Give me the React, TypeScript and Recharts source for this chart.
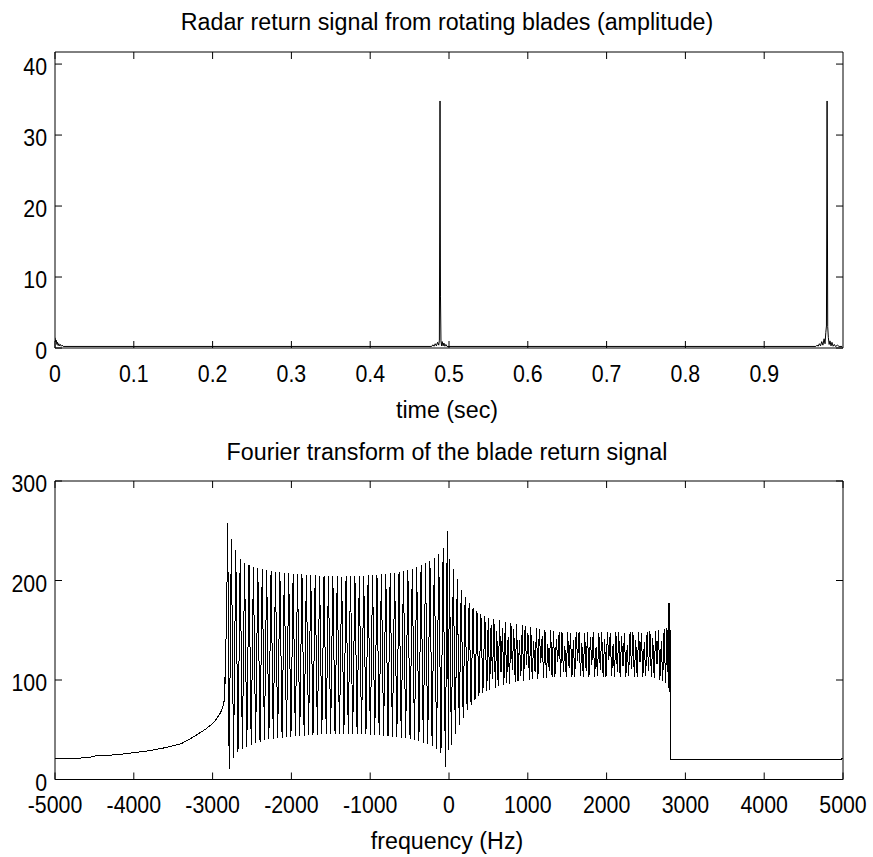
import React from 'react';
import { LineChart, Line, XAxis, YAxis } from 'recharts';

const FONT = '"Liberation Sans", Arial, Helvetica, sans-serif';

// ---------- tick labels ----------
const timeTicks = [0, 0.1, 0.2, 0.3, 0.4, 0.5, 0.6, 0.7, 0.8, 0.9];
const amplitudeTicks = [0, 10, 20, 30, 40];
const freqTicks = [-5000, -4000, -3000, -2000, -1000, 0, 1000, 2000, 3000, 4000, 5000];
const magnitudeTicks = [0, 100, 200, 300];

// ---------- top: radar return (time [s], amplitude) ----------
const bladeSignal: [number, number][] = [
  [0, 1.45], [0.0008, 0.9], [0.0016, 1.1], [0.0024, 0.5], [0.0032, 0.8], [0.004, 0.35],
  [0.0048, 0.6], [0.0056, 0.3], [0.0068, 0.5], [0.008, 0.25], [0.0092, 0.4], [0.0104, 0.22],
  [0.478, 0.22], [0.4795, 0.45], [0.481, 0.25], [0.4825, 0.6], [0.484, 0.3], [0.4855, 0.8],
  [0.487, 0.4], [0.4878, 1.1], [0.4886, 34.8], [0.4892, 7.2], [0.4898, 1.0], [0.4906, 0.3],
  [0.4914, 0.9], [0.4925, 0.3], [0.4935, 0.7], [0.4948, 0.25], [0.496, 0.5], [0.4975, 0.22],
  [0.9655, 0.22], [0.967, 0.4], [0.9685, 0.25], [0.97, 0.6], [0.9715, 0.3], [0.973, 0.9],
  [0.9745, 0.4], [0.976, 1.3], [0.9772, 0.6], [0.9782, 2.2], [0.979, 3.1], [0.9798, 34.8],
  [0.9806, 3.0], [0.9814, 1.5], [0.9824, 0.5], [0.9835, 1.0], [0.9848, 0.3], [0.986, 0.8],
  [0.9875, 0.25], [0.989, 0.5], [0.9905, 0.22], [0.993, 0.4], [0.995, 0.22], [0.999, 0.22],
];

// ---------- bottom: spectrum (frequency [Hz], magnitude) ----------
const spectrumLowTail: [number, number][] = [
  [-5000, 21.5], [-4700, 21.5], [-4560, 22], [-4520, 23.5], [-4200, 25], [-4000, 27],
  [-3800, 29], [-3600, 32], [-3400, 36], [-3300, 40], [-3200, 45], [-3100, 50],
  [-3000, 56], [-2950, 61], [-2900, 67], [-2870, 73], [-2856, 78], [-2848, 82],
  [-2845, 100], [-2841, 105], [-2837, 96], [-2830, 140], [-2820, 180], [-2808, 258],
];

const spectrumNegBand: [number, number][] = [
  [-2790, 11], [-2762, 242], [-2734, 22], [-2706, 231], [-2678, 28], [-2650, 222],
  [-2622, 31], [-2594, 218], [-2566, 33], [-2538, 216], [-2510, 35], [-2482, 214],
  [-2454, 37], [-2426, 213], [-2398, 38], [-2370, 212], [-2342, 40], [-2314, 211],
  [-2286, 41], [-2258, 210], [-2230, 41], [-2202, 209], [-2174, 42], [-2146, 209],
  [-2118, 42], [-2090, 208], [-2062, 43], [-2034, 208], [-2006, 43], [-1978, 207],
  [-1950, 44], [-1922, 207], [-1894, 44], [-1866, 207], [-1838, 44], [-1810, 206],
  [-1782, 45], [-1754, 206], [-1726, 45], [-1698, 206], [-1670, 45], [-1642, 205],
  [-1614, 46], [-1586, 205], [-1558, 46], [-1530, 205], [-1502, 46], [-1474, 205],
  [-1446, 46], [-1418, 205], [-1390, 46], [-1362, 204], [-1334, 46], [-1306, 205],
  [-1278, 46], [-1250, 205], [-1222, 46], [-1194, 205], [-1166, 46], [-1138, 205],
  [-1110, 46], [-1082, 205], [-1054, 46], [-1026, 206], [-998, 45], [-970, 206],
  [-942, 45], [-914, 206], [-886, 45], [-858, 207], [-830, 44], [-802, 207],
  [-774, 44], [-746, 208], [-718, 43], [-690, 208], [-662, 43], [-634, 209],
  [-606, 42], [-578, 210], [-550, 42], [-522, 211], [-494, 41], [-466, 212],
  [-438, 40], [-410, 214], [-382, 39], [-354, 216], [-326, 37], [-298, 218],
  [-270, 36], [-242, 220], [-214, 34], [-186, 223], [-158, 31], [-130, 227],
  [-102, 27], [-74, 233], [-46, 13], [-22, 250], [-8, 30],
];

const spectrumPosBand: [number, number][] = [
  [5, 222], [30, 35], [55, 212], [80, 46], [105, 201], [130, 55], [155, 190], [180, 62],
  [205, 183], [230, 70], [255, 177], [280, 75], [305, 172], [330, 80], [355, 169], [380, 84],
  [405, 166], [430, 87], [455, 164], [480, 89],
  [498, 162], [516, 90], [534, 155], [552, 101], [570, 161], [588, 92], [606, 149], [624, 94],
  [642, 160], [660, 108], [678, 152], [696, 95], [714, 158], [732, 97], [750, 143], [768, 96],
  [786, 157], [804, 110], [822, 151], [840, 98], [858, 156], [876, 99], [894, 140], [912, 104],
  [930, 155], [948, 99], [966, 154], [984, 115], [1002, 147], [1020, 100], [1038, 153], [1056, 101],
  [1074, 139], [1092, 108], [1110, 152], [1128, 101], [1146, 151], [1164, 117], [1182, 144], [1200, 102],
  [1218, 150], [1236, 102], [1254, 136], [1272, 109], [1290, 150], [1308, 103], [1326, 149], [1344, 103],
  [1362, 141], [1380, 118], [1398, 148], [1416, 103], [1434, 148], [1452, 108], [1470, 134], [1488, 103],
  [1506, 148], [1524, 112], [1542, 147], [1560, 103], [1578, 140], [1596, 103], [1614, 148], [1632, 119],
  [1650, 148], [1668, 104], [1686, 137], [1704, 103], [1722, 147], [1740, 109], [1758, 148], [1776, 103],
  [1794, 143], [1812, 115], [1830, 148], [1848, 103], [1866, 133], [1884, 104], [1902, 147], [1920, 110],
  [1938, 148], [1956, 103], [1974, 141], [1992, 103], [2010, 148], [2028, 120], [2046, 147], [2064, 104],
  [2082, 136], [2100, 103], [2118, 148], [2136, 108], [2154, 148], [2172, 103], [2190, 144], [2208, 114],
  [2226, 147], [2244, 103], [2262, 135], [2280, 104], [2298, 148], [2316, 111], [2334, 148], [2352, 103],
  [2370, 140], [2388, 103], [2406, 148], [2424, 118], [2442, 147], [2460, 103], [2478, 138], [2496, 104],
  [2514, 148], [2532, 109], [2550, 149], [2568, 103], [2586, 142], [2604, 102], [2622, 149], [2640, 116],
  [2658, 150], [2676, 100], [2694, 139], [2712, 99], [2730, 151], [2748, 97], [2766, 152], [2784, 92],
  [2792, 177], [2805, 85], [2813, 150],
];

const spectrumHighTail: [number, number][] = [
  [2817, 20], [4970, 20], [5000, 21.5],
];

const timeData = bladeSignal.map(([t, a]) => ({ t, a }));
const spectrumData = [...spectrumLowTail, ...spectrumNegBand, ...spectrumPosBand, ...spectrumHighTail].map(
  ([f, m]) => ({ f, m })
);

// ---------- tick renderers ----------
const XTick = (props: any) => {
  const { x, y, payload } = props;
  return (
    <g transform={`translate(${x},${y + 17.5}) scale(0.87,1)`}>
      <text x={0} y={0} textAnchor="middle" fontSize={24.5} fontFamily={FONT} fill="#000">
        {String(payload.value)}
      </text>
    </g>
  );
};

const YTick = (props: any) => {
  const { x, y, payload } = props;
  return (
    <g transform={`translate(${x},${y + 11}) scale(0.87,1)`}>
      <text x={0} y={0} textAnchor="end" fontSize={24.5} fontFamily={FONT} fill="#000">
        {String(payload.value)}
      </text>
    </g>
  );
};

const NoTick = () => <g />;

const axisStyle = {
  axisLine: { stroke: '#000', strokeWidth: 1 },
  tickLine: { stroke: '#000', strokeWidth: 1 },
  tickSize: -7,
  interval: 0 as const,
  allowDataOverflow: true,
};

const W = 873;
const H = 857;

export default function App() {
  const layer: React.CSSProperties = { position: 'absolute', left: 0, top: 0 };
  return (
    <div style={{ position: 'absolute', left: 0, top: 0, width: W, height: H, background: '#fff' }}>
      <div style={layer}>
        <LineChart width={W} height={H} data={timeData} margin={{ top: 51, right: 29, bottom: H - 348 - 1, left: 54 }}>
          <XAxis xAxisId="b" dataKey="t" type="number" domain={[0, 1]} ticks={timeTicks} tick={<XTick />}
            tickMargin={23} height={1} {...axisStyle} />
          <XAxis xAxisId="t" orientation="top" dataKey="t" type="number" domain={[0, 1]} ticks={timeTicks}
            tick={<NoTick />} height={1} {...axisStyle} />
          <YAxis yAxisId="l" type="number" domain={[0, 41.7]} ticks={amplitudeTicks} tick={<YTick />}
            tickMargin={15} width={1} {...axisStyle} />
          <YAxis yAxisId="r" orientation="right" type="number" domain={[0, 41.7]} ticks={amplitudeTicks}
            tick={<NoTick />} width={1} {...axisStyle} />
          <Line xAxisId="b" yAxisId="l" dataKey="a" type="linear" stroke="#000" strokeWidth={1}
            dot={false} activeDot={false} isAnimationActive={false} />
        </LineChart>
      </div>
      <div style={layer}>
        <LineChart width={W} height={H} data={spectrumData} margin={{ top: 480, right: 29, bottom: H - 779.5 - 1, left: 54 }}>
          <XAxis xAxisId="b" dataKey="f" type="number" domain={[-5000, 5000]} ticks={freqTicks} tick={<XTick />}
            tickMargin={23} height={1} {...axisStyle} />
          <XAxis xAxisId="t" orientation="top" dataKey="f" type="number" domain={[-5000, 5000]} ticks={freqTicks}
            tick={<NoTick />} height={1} {...axisStyle} />
          <YAxis yAxisId="l" type="number" domain={[0, 300]} ticks={magnitudeTicks} tick={<YTick />}
            tickMargin={15} width={1} {...axisStyle} />
          <YAxis yAxisId="r" orientation="right" type="number" domain={[0, 300]} ticks={magnitudeTicks}
            tick={<NoTick />} width={1} {...axisStyle} />
          <Line xAxisId="b" yAxisId="l" dataKey="m" type="linear" stroke="#000" strokeWidth={1}
            shapeRendering="crispEdges" dot={false} activeDot={false} isAnimationActive={false} />
        </LineChart>
      </div>
      <svg width={W} height={H} style={{ ...layer, pointerEvents: 'none' }}>
        <g fontFamily={FONT} fontSize={24.5} fill="#000">
          <text transform="translate(447,29.5) scale(0.95,1)" textAnchor="middle">
            Radar return signal from rotating blades (amplitude)
          </text>
          <text transform="translate(447,418) scale(0.95,1)" textAnchor="middle">time (sec)</text>
          <text transform="translate(447,460) scale(0.95,1)" textAnchor="middle">
            Fourier transform of the blade return signal
          </text>
          <text transform="translate(447,849) scale(0.95,1)" textAnchor="middle">frequency (Hz)</text>
        </g>
      </svg>
    </div>
  );
}
